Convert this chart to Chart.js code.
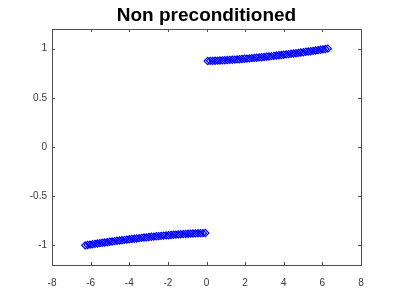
<!DOCTYPE html>
<html>
<head>
<meta charset="utf-8">
<script src="https://cdn.jsdelivr.net/npm/chart.js@4/dist/chart.umd.min.js"></script>
<style>
  html, body { margin: 0; padding: 0; background: #fff; }
  #wrap { width: 399px; height: 299px; }
</style>
</head>
<body>
<div id="wrap"><canvas id="plot"></canvas></div>
<script>
// values
const xNeg = [-6.283, -6.156, -6.029, -5.902, -5.775, -5.648, -5.522, -5.395, -5.268, -5.141,
  -5.014, -4.887, -4.760, -4.633, -4.506, -4.379, -4.252, -4.125, -3.998, -3.871,
  -3.744, -3.618, -3.491, -3.364, -3.237, -3.110, -2.983, -2.856, -2.729, -2.602,
  -2.475, -2.348, -2.221, -2.094, -1.967, -1.841, -1.714, -1.587, -1.460, -1.333,
  -1.206, -1.079, -0.952, -0.825, -0.698, -0.571, -0.444, -0.317, -0.190, -0.063];
const yNeg = [-1.000, -0.996, -0.993, -0.989, -0.985, -0.982, -0.978, -0.974, -0.971, -0.968,
  -0.964, -0.961, -0.957, -0.954, -0.951, -0.948, -0.945, -0.942, -0.938, -0.935,
  -0.933, -0.930, -0.927, -0.924, -0.921, -0.919, -0.916, -0.913, -0.911, -0.908,
  -0.906, -0.904, -0.901, -0.899, -0.897, -0.895, -0.893, -0.891, -0.889, -0.887,
  -0.886, -0.884, -0.882, -0.881, -0.880, -0.878, -0.877, -0.876, -0.876, -0.875];
const xPos = [0.063, 0.190, 0.317, 0.444, 0.571, 0.698, 0.825, 0.952, 1.079, 1.206,
  1.333, 1.460, 1.587, 1.714, 1.841, 1.967, 2.094, 2.221, 2.348, 2.475,
  2.602, 2.729, 2.856, 2.983, 3.110, 3.237, 3.364, 3.491, 3.618, 3.744,
  3.871, 3.998, 4.125, 4.252, 4.379, 4.506, 4.633, 4.760, 4.887, 5.014,
  5.141, 5.268, 5.395, 5.522, 5.648, 5.775, 5.902, 6.029, 6.156, 6.283];
const yPos = [0.875, 0.876, 0.876, 0.877, 0.878, 0.880, 0.881, 0.882, 0.884, 0.886,
  0.887, 0.889, 0.891, 0.893, 0.895, 0.897, 0.899, 0.901, 0.904, 0.906,
  0.908, 0.911, 0.913, 0.916, 0.919, 0.921, 0.924, 0.927, 0.930, 0.933,
  0.935, 0.938, 0.942, 0.945, 0.948, 0.951, 0.954, 0.957, 0.961, 0.964,
  0.968, 0.971, 0.974, 0.978, 0.982, 0.985, 0.989, 0.993, 0.996, 1.000];

const xTicks = [-8, -6, -4, -2, 0, 2, 4, 6, 8];
const yTicks = [-1, -0.5, 0, 0.5, 1];
const titleText = "Non preconditioned";

const points = [];
xNeg.forEach((x, i) => points.push({ x: x, y: yNeg[i] }));
xPos.forEach((x, i) => points.push({ x: x, y: yPos[i] }));

const axisColor = "#4d4d4d";
const labelColor = "#3a3a3a";

// box around the plot plus inward ticks on all four sides
const boxTicks = {
  id: "boxTicks",
  afterDraw(chart) {
    const { ctx, chartArea: a, scales } = chart;
    const len = 3;
    ctx.save();
    ctx.strokeStyle = axisColor;
    ctx.lineWidth = 1;
    ctx.strokeRect(Math.round(a.left) + 0.5, Math.round(a.top) + 0.5,
      Math.round(a.right - a.left), Math.round(a.bottom - a.top));
    ctx.beginPath();
    xTicks.forEach(v => {
      const px = Math.round(scales.x.getPixelForValue(v)) + 0.5;
      ctx.moveTo(px, a.bottom); ctx.lineTo(px, a.bottom - len);
      ctx.moveTo(px, a.top); ctx.lineTo(px, a.top + len);
    });
    yTicks.forEach(v => {
      const py = Math.round(scales.y.getPixelForValue(v)) + 0.5;
      ctx.moveTo(a.left, py); ctx.lineTo(a.left + len, py);
      ctx.moveTo(a.right, py); ctx.lineTo(a.right - len, py);
    });
    ctx.stroke();
    ctx.restore();
  }
};

new Chart(document.getElementById("plot"), {
  type: "scatter",
  data: {
    datasets: [{
      data: points,
      showLine: false,
      pointStyle: "rectRot",
      pointRadius: 3.6,
      pointBorderWidth: 1.2,
      pointBorderColor: "#0000ff",
      pointBackgroundColor: "rgba(0,0,0,0)",
    }],
  },
  options: {
    responsive: true,
    maintainAspectRatio: false,
    animation: false,
    layout: { padding: { left: 0, right: 38, top: 0, bottom: 0 } },
    plugins: {
      legend: { display: false },
      tooltip: { enabled: false },
      title: {
        display: true,
        text: titleText,
        fullSize: false,
        color: "#000",
        font: { family: "Liberation Sans, Arial, sans-serif", size: 19, weight: "bold", lineHeight: 1.2 },
        padding: { top: 4, bottom: 2.2 },
      },
    },
    scales: {
      x: {
        type: "linear",
        min: -8,
        max: 8,
        afterBuildTicks: s => { s.ticks = xTicks.map(v => ({ value: v })); },
        afterFit: s => { s.height = 34; },
        grid: { display: false, drawTicks: false, tickLength: 0 },
        border: { display: false },
        ticks: {
          color: labelColor,
          padding: 12,
          maxRotation: 0,
          callback: v => String(v),
          font: { family: "Liberation Sans, Arial, sans-serif", size: 10 },
        },
      },
      y: {
        type: "linear",
        min: -1.2,
        max: 1.2,
        afterBuildTicks: s => { s.ticks = yTicks.map(v => ({ value: v })); },
        afterFit: s => { s.width = 52; },
        grid: { display: false, drawTicks: false, tickLength: 0 },
        border: { display: false },
        ticks: {
          color: labelColor,
          padding: 5,
          callback: v => String(v),
          font: { family: "Liberation Sans, Arial, sans-serif", size: 10 },
        },
      },
    },
  },
  plugins: [boxTicks],
});
</script>
</body>
</html>
